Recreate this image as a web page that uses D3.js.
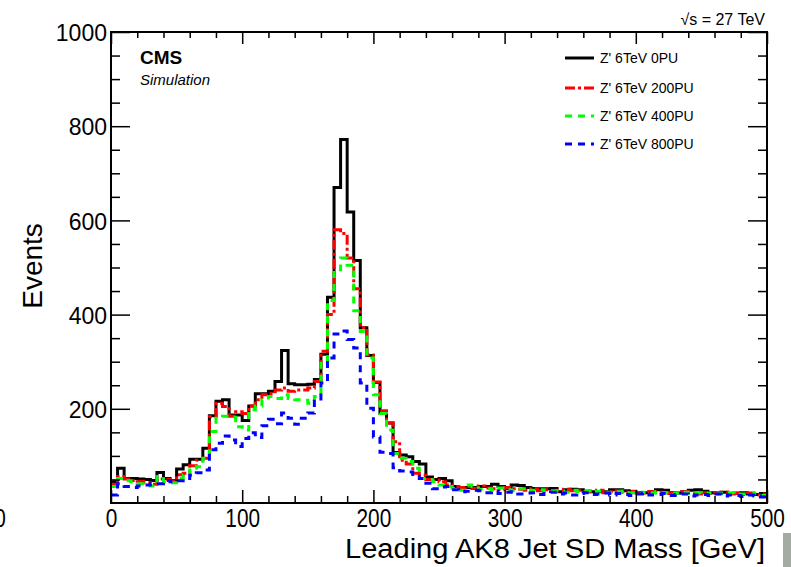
<!DOCTYPE html>
<html><head><meta charset="utf-8">
<script src="https://cdn.jsdelivr.net/npm/d3@7"></script>
<style>body{margin:0;background:#fff}svg{display:block}text{font-family:"Liberation Sans",Arial,Helvetica,sans-serif;fill:#000}</style>
</head><body><svg id="c" width="791" height="567"></svg>
<script>
// ---- data ----
const binLow = d3.range(0, 500, 5);   // 100 bins of 5 GeV (lower edges)
const binWidth = 5;
const seriesNames = ["Z' 6TeV 0PU", "Z' 6TeV 200PU", "Z' 6TeV 400PU", "Z' 6TeV 800PU"];
const pu0 = [45,74,52,52,51,50,48,65,52,48, 72,81,93,93,116,185,216,219,187,187,
  175,206,232,232,237,258,324,253,251,251, 252,262,316,437,670,772,618,515,372,313,
  256,190,170,107,102,98,88,83,55,50, 52,47,35,33,33,33,35,35,40,35,
  31,38,37,33,31,30,30,31,24,28, 29,28,25,24,24,24,28,28,26,24,
  22,22,24,28,27,22,21,24,27,28, 25,22,21,23,20,21,22,19,18,20];
const pu200 = [40,56,51,48,46,43,40,51,50,47, 60,63,79,91,95,183,212,205,184,194,
  190,206,219,230,232,240,244,237,240,240, 244,258,322,400,580,572,520,455,372,314,
  257,196,170,130,91,83,63,59,50,49, 45,38,35,33,35,31,36,32,30,28,
  33,30,29,27,30,26,28,25,27,29, 26,27,24,25,27,22,24,26,23,25,
  22,21,24,23,22,20,22,24,21,19, 22,20,21,23,19,20,18,21,17,19];
const pu400 = [35,52,47,45,41,38,36,56,45,43, 52,59,74,77,95,152,180,184,182,162,
  155,198,206,219,226,222,230,222,219,218, 212,226,300,430,495,520,505,408,364,308,
  230,190,155,105,95,88,74,52,50,45, 38,35,31,27,38,35,29,30,27,32,
  28,26,30,25,27,28,24,26,25,23, 27,24,26,22,25,23,21,24,25,22,
  20,23,21,24,22,19,21,23,20,22, 18,21,19,20,22,18,19,17,20,16];
const pu800 = [17,41,35,33,36,38,41,41,48,45, 47,52,59,64,70,113,127,142,134,120,
  137,149,139,164,178,168,191,180,167,180, 191,216,255,308,359,365,347,329,255,201,
  140,108,105,75,68,66,57,52,42,30, 34,35,28,24,25,27,26,22,25,20,
  23,24,19,21,22,18,20,23,19,21, 17,20,22,18,19,21,17,20,18,16,
  19,21,17,18,20,16,18,19,15,17, 18,16,19,15,17,16,14,17,15,13];
const seriesValues = [pu0, pu200, pu400, pu800];
const seriesColors = ["#000000", "#ff0000", "#00ff00", "#0000ff"];
const seriesDash = [null, "10,3,3,3", "7,6", "7,6"];
const xTicks = [0, 100, 200, 300, 400, 500];
const yTicks = [200, 400, 600, 800, 1000];
const xLabel = "Leading AK8 Jet SD Mass [GeV]";
const yLabel = "Events";

// ---- layout ----
const M = {l: 111, r: 767, t: 32, b: 503};
const svg = d3.select("#c");
const x = d3.scaleLinear().domain([0, 500]).range([M.l, M.r]);
const y = d3.scaleLinear().domain([0, 1000]).range([M.b, M.t]);

svg.append("clipPath").attr("id", "clip").append("rect")
  .attr("x", M.l).attr("y", M.t).attr("width", M.r - M.l).attr("height", M.b - M.t);

// histograms
const line = d3.line().x(d => x(d[0])).y(d => y(d[1])).curve(d3.curveStepAfter);
const hg = svg.append("g").attr("clip-path", "url(#clip)");
seriesValues.forEach((vals, k) => {
  const pts = vals.map((v, i) => [binLow[i], v]);
  pts.push([binLow[vals.length - 1] + binWidth, vals[vals.length - 1]]);
  hg.append("path").attr("d", line(pts)).attr("fill", "none")
    .attr("stroke", seriesColors[k]).attr("stroke-width", 3)
    .attr("stroke-dasharray", seriesDash[k]);
});

// axes
const minorX = d3.range(0, 501, 20).filter(v => v % 100 !== 0);
const minorY = d3.range(0, 1001, 50).filter(v => v % 200 !== 0);
function clean(g) { g.select(".domain").remove(); g.selectAll("line").attr("stroke", "#000").attr("stroke-width", 1.5); }

svg.append("g").attr("transform", `translate(0,${M.b})`)
  .call(d3.axisBottom(x).tickValues(xTicks).tickSize(-13).tickFormat(d3.format("d")))
  .call(clean)
  .call(g => g.selectAll("text").attr("y", 24).attr("dy", 0)
    .attr("font-size", 26).attr("transform", "scale(0.8,1)"));
svg.append("g").attr("transform", `translate(0,${M.b})`)
  .call(d3.axisBottom(x).tickValues(minorX).tickSize(-7).tickFormat("")).call(clean);
svg.append("g").attr("transform", `translate(0,${M.t})`)
  .call(d3.axisTop(x).tickValues(xTicks).tickSize(-12).tickFormat("")).call(clean);
svg.append("g").attr("transform", `translate(0,${M.t})`)
  .call(d3.axisTop(x).tickValues(minorX).tickSize(-6).tickFormat("")).call(clean);

svg.append("g").attr("transform", `translate(${M.l},0)`)
  .call(d3.axisLeft(y).tickValues(yTicks).tickSize(-19).tickFormat(d3.format("d")))
  .call(clean)
  .call(g => g.selectAll("text").attr("x", -4).attr("font-size", 23).attr("dy", "0.38em"));
svg.append("g").attr("transform", `translate(${M.l},0)`)
  .call(d3.axisLeft(y).tickValues(minorY).tickSize(-9).tickFormat("")).call(clean);
svg.append("g").attr("transform", `translate(${M.r},0)`)
  .call(d3.axisRight(y).tickValues(yTicks).tickSize(-19).tickFormat("")).call(clean);
svg.append("g").attr("transform", `translate(${M.r},0)`)
  .call(d3.axisRight(y).tickValues(minorY).tickSize(-9).tickFormat("")).call(clean);

// frame
svg.append("rect").attr("x", M.l).attr("y", M.t).attr("width", M.r - M.l).attr("height", M.b - M.t)
  .attr("fill", "none").attr("stroke", "#000").attr("stroke-width", 2);

// titles
svg.append("text").attr("x", 765).attr("y", 558).attr("text-anchor", "end")
  .attr("font-size", 27).attr("textLength", 420).attr("lengthAdjust", "spacingAndGlyphs").text(xLabel);
svg.append("text").attr("transform", "translate(42,266) rotate(-90)").attr("text-anchor", "middle")
  .attr("font-size", 28).text(yLabel);

svg.append("text").attr("x", 140).attr("y", 64).attr("font-size", 19).attr("font-weight", "bold").text("CMS");
svg.append("text").attr("x", 140).attr("y", 85).attr("font-size", 15).attr("font-style", "italic").text("Simulation");
svg.append("text").attr("x", 765).attr("y", 25).attr("text-anchor", "end").attr("font-size", 16).text("√s = 27 TeV");

// legend
const leg = svg.append("g");
const legY = [58, 88, 116, 144];
seriesNames.forEach((n, k) => {
  leg.append("line").attr("x1", 565).attr("x2", 594).attr("y1", legY[k]).attr("y2", legY[k])
    .attr("stroke", seriesColors[k]).attr("stroke-width", 3).attr("stroke-dasharray", seriesDash[k]);
  leg.append("text").attr("x", 600).attr("y", legY[k]).attr("dy", "0.36em").attr("font-size", 14).text(n);
});

// crop artifacts at the picture's edges (partial "0" and grey bar, as in the reference)
svg.append("text").attr("x", 0).attr("y", 527).attr("text-anchor", "middle")
  .attr("font-size", 26).attr("transform", "scale(0.8,1)").text("0");
svg.append("rect").attr("x", 783).attr("y", 533).attr("width", 8).attr("height", 34).attr("fill", "#a3aba3");
</script></body></html>
